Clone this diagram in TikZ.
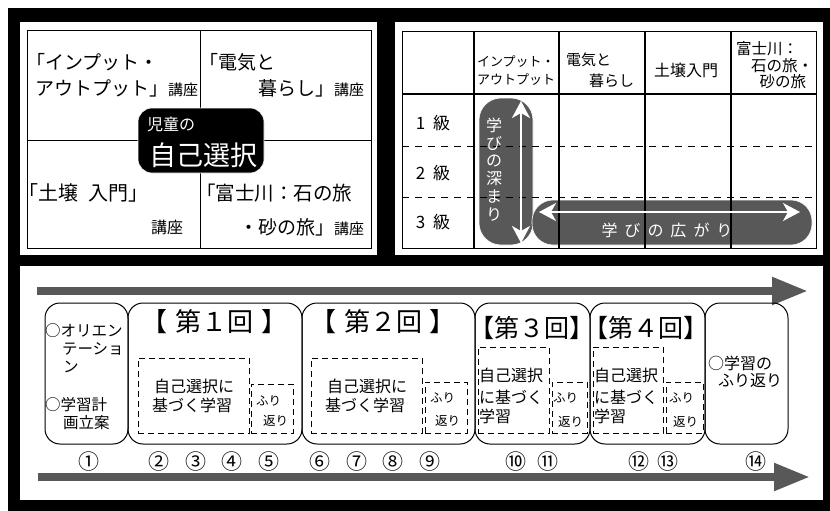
\documentclass[tikz,border=0pt]{standalone}
\usepackage{fontspec}
\setmainfont{Noto Sans CJK JP}
\usetikzlibrary{arrows.meta}
\definecolor{barc}{RGB}{88,88,88}
\newcommand\myfs[1]{\fontsize{#1}{#1}\selectfont}
\begin{document}
\begin{tikzpicture}[x=1pt,y=-1pt,
  txt/.style={inner sep=0pt,outer sep=0pt},
  thinline/.style={draw=black,line width=1pt},
  thickline/.style={draw=black,line width=2pt},
  dashline/.style={draw=black,line width=0.9pt,dash pattern=on 7pt off 6pt},
  blackbox/.style={fill=black,draw=white,line width=0.6pt,rounded corners=14pt,minimum width=126pt,minimum height=65pt,inner sep=0pt,outer sep=0pt},
  graybar/.style={fill=barc,draw=white,line width=0.6pt,inner sep=0pt,outer sep=0pt},
  whitearrow/.style={draw=white,line width=2pt,{Stealth[length=17pt,width=18pt,inset=5pt]}-{Stealth[length=17pt,width=18pt,inset=5pt]}},
  bigarrow/.style={draw=barc,line width=8pt,-{Triangle[length=36pt,width=26pt]}},
  stage/.style={draw=black,line width=1pt,rounded corners=15pt,minimum height=141pt,inner sep=0pt,outer sep=0pt},
  dbox/.style={draw=black,line width=1pt,dash pattern=on 6pt off 4pt,inner sep=0pt,outer sep=0pt},
  num/.style={inner sep=0pt,outer sep=0pt,font=\myfs{21}},
]
\useasboundingbox (0,0) rectangle (830,511);
% frame
\fill[black] (8,8) rectangle (830,511);
\fill[white] (20,22) rectangle (377,255);
\fill[white] (395,22) rectangle (823,255);
\fill[white] (20,266) rectangle (823,500);

% ===== top-left panel =====
\draw[thinline] (27,31) rectangle (371,248);
\draw[thinline] (200,31) -- (200,248);
\draw[thinline] (27,140) -- (371,140);
\node[blackbox] (cbox) at (201,140.5) {};
\node[txt,white,font=\myfs{16},anchor=west] (jido) at (147,124) {児童の};
\node[txt,white,font=\myfs{27}] (jiko) at (203.5,155) {自己選択};

\node[txt,font=\myfs{19},anchor=west] (tl1a) at (26,62) {「インプット・};
\node[txt,font=\myfs{19},anchor=west] (tl1b) at (35,88) {アウトプット」{\myfs{15}講座}};
\node[txt,font=\myfs{19},anchor=west] (tl2a) at (199,62) {「電気と};
\node[txt,font=\myfs{19},anchor=east] (tl2b) at (364,88) {暮らし」{\myfs{15}講座}};
\node[txt,font=\myfs{20},anchor=west] (tl3a) at (19,193) {「土壌\hspace{0.5em}入門」};
\node[txt,font=\myfs{16},anchor=east] (tl3b) at (183,227) {講座};
\node[txt,font=\myfs{19.5},anchor=west] (tl4a) at (196,193) {「富士川：石の旅};
\node[txt,font=\myfs{19},anchor=east] (tl4b) at (364,227) {・砂の旅」{\myfs{15}講座}};

% ===== top-right panel =====
\node[graybar,rounded corners=22pt,minimum width=54pt,minimum height=147pt] (vbar) at (506,171.5) {};
\node[graybar,rounded corners=21pt,minimum width=280pt,minimum height=45pt] (hbar) at (672,222.5) {};
\draw[thinline] (402,32) rectangle (816,248);
\foreach \x in {474,559,645,731} \draw[thickline] (\x,32) -- (\x,248);
\draw[thickline] (402,94) -- (816,94);
\draw[dashline] (402,146) -- (816,146);
\draw[dashline] (402,197) -- (816,197);

\node[txt,font=\myfs{17}] (r1) at (433,123) {1\hspace{0.45em}級};
\node[txt,font=\myfs{17}] (r2) at (433,173) {2\hspace{0.45em}級};
\node[txt,font=\myfs{17}] (r3) at (433,222) {3\hspace{0.45em}級};

\node[txt,font=\myfs{13},anchor=west] (h1a) at (477,62) {インプット・};
\node[txt,font=\myfs{13},anchor=west] (h1b) at (477,80) {アウトプット};
\node[txt,font=\myfs{15},anchor=west] (h2a) at (566,60) {電気と};
\node[txt,font=\myfs{15},anchor=east] (h2b) at (634,81) {暮らし};
\node[txt,font=\myfs{16}] (h3) at (686,70) {土壌入門};
\node[txt,font=\myfs{15.5},anchor=west] (h4a) at (736,49) {富士川：};
\node[txt,font=\myfs{15.5},anchor=east] (h4b) at (813,66) {石の旅・};
\node[txt,font=\myfs{15.5},anchor=east] (h4c) at (806,82) {砂の旅};

\coordinate (va1) at (521,101);
\coordinate (va2) at (521,243);
\draw[whitearrow] (va1) -- (va2);
\coordinate (ha1) at (539,212);
\coordinate (ha2) at (800,212);
\draw[whitearrow] (ha1) -- (ha2);
\node[txt,white,font=\fontsize{16}{17.8}\selectfont,align=center] (fuka) at (494,169.5) {学\\び\\の\\深\\ま\\り};
\node[txt,white,font=\myfs{16}] (hiro) at (667,230) {学\hspace{7pt}び\hspace{7pt}の\hspace{7pt}広\hspace{7pt}が\hspace{7pt}り};

% ===== bottom panel =====
\coordinate (ta1) at (37,291);
\coordinate (ta2) at (808,291);
\draw[bigarrow] (ta1) -- (ta2);
\coordinate (ba1) at (38,477);
\coordinate (ba2) at (810,477);
\draw[bigarrow] (ba1) -- (ba2);

\node[stage,minimum width=83pt] (s1) at (86.5,373.5) {};
\node[stage,minimum width=174pt] (s2) at (215,373.5) {};
\node[stage,minimum width=173pt] (s3) at (388.5,373.5) {};
\node[stage,minimum width=115pt] (s4) at (532.5,373.5) {};
\node[stage,minimum width=115pt] (s5) at (647.5,373.5) {};
\node[stage,minimum width=83pt] (s6) at (746.5,373.5) {};

% stage 1
\node[txt,font=\myfs{15.5},anchor=west] (o1) at (45,331) {○オリエン};
\node[txt,font=\myfs{15.5},anchor=west] (o2) at (62,349) {テーショ};
\node[txt,font=\myfs{15.5},anchor=west] (o3) at (63,367) {ン};
\node[txt,font=\myfs{15.5},anchor=west] (o4) at (45,405) {○学習計};
\node[txt,font=\myfs{15.5},anchor=west] (o5) at (63,423) {画立案};

% stage 2
\node[txt,font=\myfs{26}] (k1) at (214.5,322) {【\hspace{0.3em}第１回\hspace{0.3em}】};
\node[dbox,minimum width=111pt,minimum height=75pt] (d2a) at (193.5,395.5) {};
\node[dbox,minimum width=42pt,minimum height=49pt] (d2b) at (272,408.5) {};
\node[txt,font=\myfs{16},anchor=west] (g2a) at (154,386) {自己選択に};
\node[txt,font=\myfs{16},anchor=west] (g2b) at (152,405) {基づく学習};
\node[txt,font=\myfs{12.5},anchor=west] (f2a) at (256,401) {ふり};
\node[txt,font=\myfs{12.5},anchor=west] (f2b) at (263,421) {返り};

% stage 3
\node[txt,font=\myfs{26}] (k2) at (383,322) {【\hspace{0.3em}第２回\hspace{0.3em}】};
\node[dbox,minimum width=111pt,minimum height=75pt] (d3a) at (366.5,395.5) {};
\node[dbox,minimum width=42pt,minimum height=51pt] (d3b) at (446,407.5) {};
\node[txt,font=\myfs{16},anchor=west] (g3a) at (327,386) {自己選択に};
\node[txt,font=\myfs{16},anchor=west] (g3b) at (325,405) {基づく学習};
\node[txt,font=\myfs{12.5},anchor=west] (f3a) at (430,398) {ふり};
\node[txt,font=\myfs{12.5},anchor=west] (f3b) at (435,421) {返り};

% stage 4
\node[txt,font=\myfs{25}] (k3) at (531.5,328) {【第３回】};
\node[dbox,minimum width=71pt,minimum height=86pt] (d4a) at (513.5,390) {};
\node[dbox,minimum width=35pt,minimum height=51pt] (d4b) at (569.5,407.5) {};
\node[txt,font=\myfs{16},anchor=west] (g4a) at (479,375) {自己選択};
\node[txt,font=\myfs{16},anchor=west] (g4b) at (479,397) {に基づく};
\node[txt,font=\myfs{16},anchor=west] (g4c) at (479,416) {学習};
\node[txt,font=\myfs{12.5},anchor=west] (f4a) at (553,398) {ふり};
\node[txt,font=\myfs{12.5},anchor=west] (f4b) at (558,422) {返り};

% stage 5
\node[txt,font=\myfs{25}] (k4) at (645.5,328) {【第４回】};
\node[dbox,minimum width=70pt,minimum height=86pt] (d5a) at (628,390) {};
\node[dbox,minimum width=37pt,minimum height=51pt] (d5b) at (684.5,407.5) {};
\node[txt,font=\myfs{16},anchor=west] (g5a) at (594,375) {自己選択};
\node[txt,font=\myfs{16},anchor=west] (g5b) at (594,397) {に基づく};
\node[txt,font=\myfs{16},anchor=west] (g5c) at (594,416) {学習};
\node[txt,font=\myfs{12.5},anchor=west] (f5a) at (669,398) {ふり};
\node[txt,font=\myfs{12.5},anchor=west] (f5b) at (673,422) {返り};

% stage 6
\node[txt,font=\myfs{16},anchor=west] (e1) at (708,363) {○学習の};
\node[txt,font=\myfs{16},anchor=west] (e2) at (718,381) {ふり返り};

% numbers
\node[num] (n1) at (89,462) {①};
\node[num] (n2) at (214,462) {②\hspace{15.5pt}③\hspace{15.5pt}④\hspace{15.5pt}⑤};
\node[num] (n3) at (375,462) {⑥\hspace{15.5pt}⑦\hspace{15.5pt}⑧\hspace{15.5pt}⑨};
\node[num] (n4) at (516,462) {⑩};
\node[num] (n5) at (548,462) {⑪};
\node[num] (n6) at (639,462) {⑫};
\node[num] (n7) at (668,462) {⑬};
\node[num] (n8) at (756,462) {⑭};
\end{tikzpicture}
\end{document}
